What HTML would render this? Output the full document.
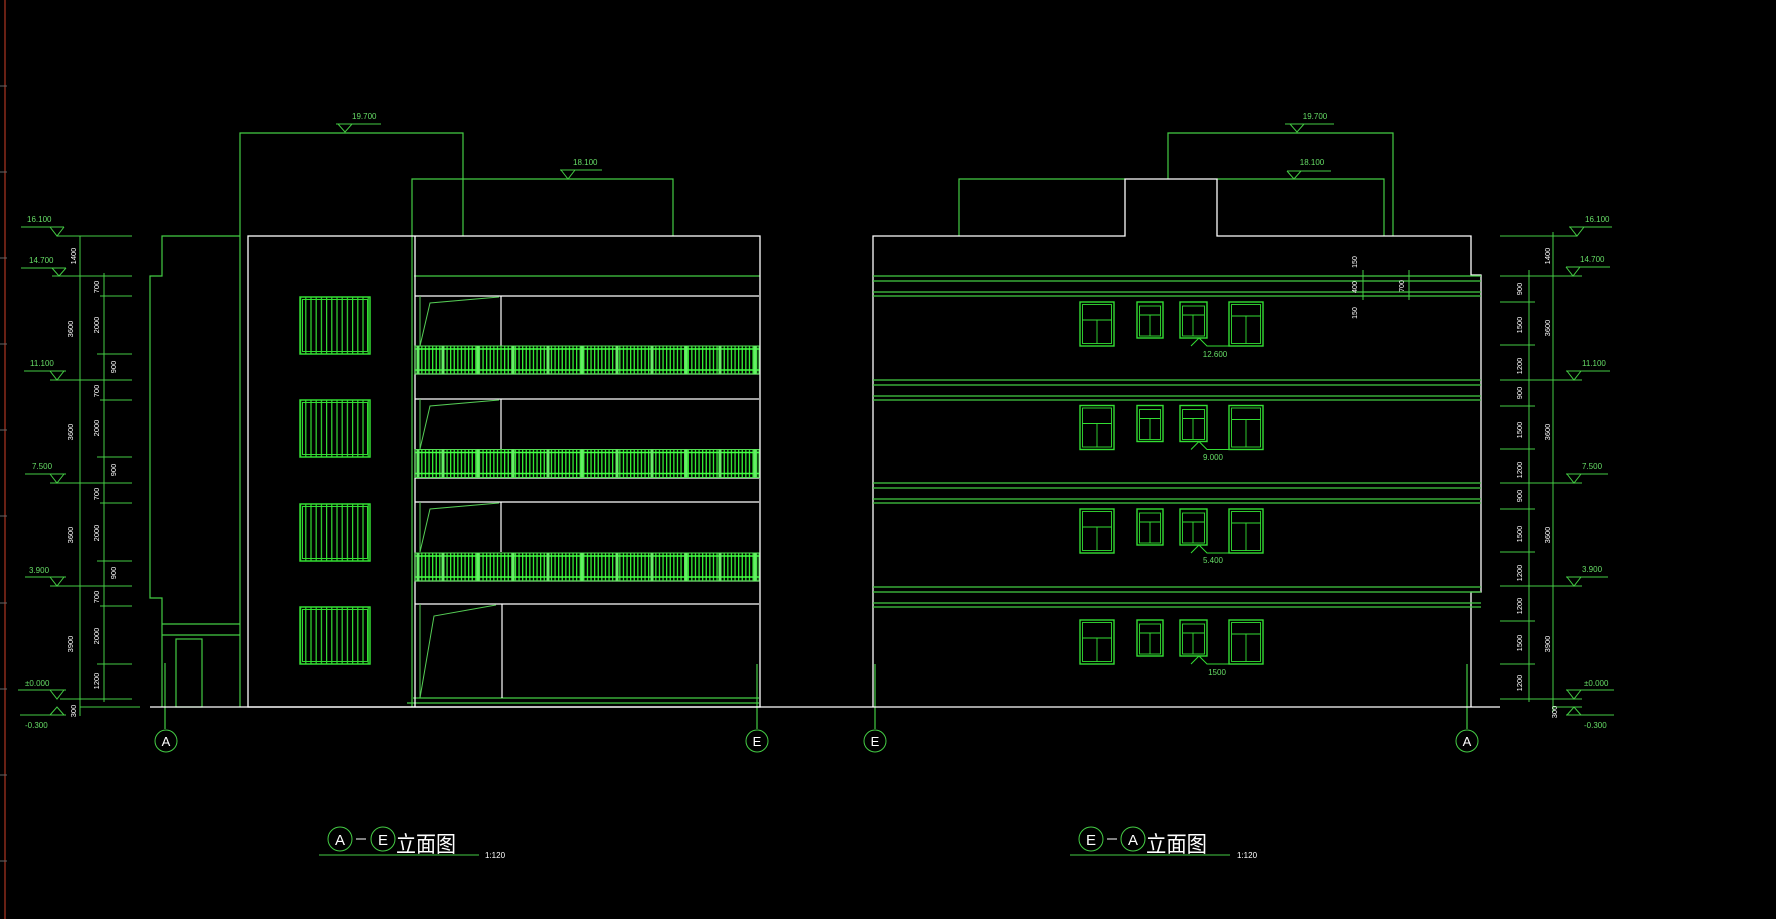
<!DOCTYPE html>
<html><head><meta charset="utf-8"><style>
html,body{margin:0;padding:0;background:#000;}
svg{display:block}
text{font-family:"Liberation Sans","Noto Sans CJK SC",sans-serif;}
</style></head><body>
<svg width="1776" height="919" viewBox="0 0 1776 919" xmlns="http://www.w3.org/2000/svg">
<defs>
<pattern id="bars" x="0" y="0" width="3.6" height="40" patternUnits="userSpaceOnUse">
<rect x="0" y="0" width="1.3" height="40" fill="#33ee33"/>
</pattern>
<pattern id="louv" x="300" y="0" width="5.2" height="60" patternUnits="userSpaceOnUse">
<rect x="0" y="0" width="1.2" height="60" fill="#33dd33"/>
</pattern>
<g id="rail">
<rect x="415" y="0" width="344" height="28" fill="url(#bars)"/>
<rect x="415" y="0" width="344" height="28" fill="none" stroke="#55dd55" stroke-width="1"/>
<line x1="415" y1="3" x2="759" y2="3" stroke="#44ff44" stroke-width="1.5"/>
<line x1="415" y1="24" x2="759" y2="24" stroke="#44ff44" stroke-width="1.5"/>
<g stroke="#66ee66" stroke-width="3">
<line x1="418" y1="0" x2="418" y2="28"/><line x1="443" y1="0" x2="443" y2="28"/><line x1="478" y1="0" x2="478" y2="28"/><line x1="513" y1="0" x2="513" y2="28"/><line x1="548" y1="0" x2="548" y2="28"/><line x1="582" y1="0" x2="582" y2="28"/><line x1="617" y1="0" x2="617" y2="28"/><line x1="652" y1="0" x2="652" y2="28"/><line x1="686" y1="0" x2="686" y2="28"/><line x1="720" y1="0" x2="720" y2="28"/><line x1="755" y1="0" x2="755" y2="28"/>
</g>
</g>
<g id="louver">
<rect x="300" y="0" width="70" height="57" fill="url(#louv)"/>
<rect x="300" y="0" width="70" height="57" fill="none" stroke="#33dd33" stroke-width="1.5"/>
<rect x="302.5" y="2.5" width="65" height="52" fill="none" stroke="#33dd33" stroke-width="1"/>
</g>
<g id="stair" fill="none">
<line x1="420" y1="0" x2="420" y2="50" stroke="#55cc55"/>
<polyline points="420,50 430,7 499,1" stroke="#55cc55"/>
<line x1="501" y1="0" x2="501" y2="50" stroke="#fff" stroke-width="1.2"/>
</g>
<g id="wins" fill="none" stroke="#33dd33" stroke-width="1.4">
<rect x="1080" y="0" width="34" height="44"/><rect x="1082.5" y="2.5" width="29" height="39" stroke-width="0.9"/><line x1="1082" y1="18" x2="1112" y2="18" stroke-width="0.9"/><line x1="1097" y1="18" x2="1097" y2="42" stroke-width="0.9"/>
<rect x="1137" y="0" width="26" height="36"/><rect x="1139.5" y="4" width="21" height="30" stroke-width="0.9"/><line x1="1140" y1="13" x2="1160" y2="13" stroke-width="0.9"/><line x1="1150" y1="13" x2="1150" y2="34" stroke-width="0.9"/>
<rect x="1180" y="0" width="27" height="36"/><rect x="1182.5" y="4" width="22" height="30" stroke-width="0.9"/><line x1="1183" y1="13" x2="1204" y2="13" stroke-width="0.9"/><line x1="1193" y1="13" x2="1193" y2="34" stroke-width="0.9"/>
<rect x="1229" y="0" width="34" height="44"/><rect x="1231.5" y="2.5" width="29" height="39" stroke-width="0.9"/><line x1="1232" y1="14" x2="1261" y2="14" stroke-width="0.9"/><line x1="1246" y1="14" x2="1246" y2="42" stroke-width="0.9"/>
<polyline points="1191,44 1199,36 1207,44 1229,44" stroke-width="1"/>
</g>
<g id="bands" stroke="#44cc44" stroke-width="1.2">
<line x1="873" y1="0" x2="1481" y2="0"/><line x1="873" y1="5" x2="1481" y2="5"/><line x1="873" y1="16" x2="1481" y2="16"/><line x1="873" y1="20" x2="1481" y2="20"/>
</g>
</defs>

<!-- left edge -->
<line x1="5" y1="0" x2="5" y2="919" stroke="#8a2a1a" stroke-width="1.5"/>
<g stroke="#666" stroke-width="1"><line x1="0" y1="86" x2="7" y2="86"/><line x1="0" y1="172" x2="7" y2="172"/><line x1="0" y1="258" x2="7" y2="258"/><line x1="0" y1="344" x2="7" y2="344"/><line x1="0" y1="430" x2="7" y2="430"/><line x1="0" y1="516" x2="7" y2="516"/><line x1="0" y1="603" x2="7" y2="603"/><line x1="0" y1="689" x2="7" y2="689"/><line x1="0" y1="775" x2="7" y2="775"/><line x1="0" y1="861" x2="7" y2="861"/></g>

<!-- ===== LEFT ELEVATION ===== -->
<g fill="none" stroke="#44cc44" stroke-width="1.2">
<polyline points="240,707 240,133 463,133 463,236"/>
<polyline points="412,707 412,179 673,179 673,236"/>
<polyline points="240,236 162,236 162,276 150,276 150,598 162,598 162,707"/>
<line x1="162" y1="624" x2="240" y2="624"/><line x1="162" y1="635" x2="240" y2="635"/>
<rect x="176" y="639" width="26" height="68"/>
<line x1="165" y1="663" x2="165" y2="729"/>
<line x1="414" y1="276" x2="760" y2="276"/>
<line x1="413" y1="698" x2="759" y2="698"/><line x1="407" y1="703" x2="759" y2="703"/>
<line x1="757" y1="664" x2="757" y2="729"/>
</g>
<g fill="none" stroke="#fff" stroke-width="1.3">
<rect x="248" y="236" width="512" height="471"/>
<line x1="415" y1="236" x2="415" y2="707"/>
<line x1="415" y1="296" x2="759" y2="296"/>
<line x1="415" y1="374" x2="759" y2="374"/><line x1="415" y1="399" x2="759" y2="399"/>
<line x1="415" y1="478" x2="759" y2="478"/><line x1="415" y1="502" x2="759" y2="502"/>
<line x1="415" y1="581" x2="759" y2="581"/><line x1="415" y1="604" x2="759" y2="604"/>
<line x1="150" y1="707" x2="873" y2="707"/>
</g>
<use href="#stair" y="296"/><use href="#stair" y="399"/><use href="#stair" y="502"/>
<g fill="none"><line x1="420" y1="604" x2="420" y2="698" stroke="#55cc55"/><polyline points="420,698 434,616 496,605" stroke="#55cc55"/><line x1="502" y1="604" x2="502" y2="698" stroke="#fff" stroke-width="1.2"/></g>
<use href="#rail" y="346"/><use href="#rail" y="449.5"/><use href="#rail" y="553"/>
<use href="#louver" y="297"/><use href="#louver" y="400"/><use href="#louver" y="504"/><use href="#louver" y="607"/>

<!-- left dims -->
<g stroke="#44cc44" stroke-width="1" fill="none">
<line x1="80" y1="236" x2="80" y2="716"/><line x1="104" y1="273" x2="104" y2="702"/>
<line x1="80" y1="236" x2="132" y2="236"/><line x1="52" y1="276" x2="132" y2="276"/><line x1="100" y1="296" x2="132" y2="296"/><line x1="97" y1="354" x2="132" y2="354"/>
<line x1="80" y1="380" x2="132" y2="380"/><line x1="100" y1="400" x2="132" y2="400"/><line x1="97" y1="457" x2="132" y2="457"/>
<line x1="80" y1="483" x2="132" y2="483"/><line x1="100" y1="503" x2="132" y2="503"/><line x1="97" y1="561" x2="132" y2="561"/>
<line x1="80" y1="586" x2="132" y2="586"/><line x1="100" y1="606" x2="132" y2="606"/><line x1="97" y1="664" x2="132" y2="664"/>
<line x1="60" y1="699" x2="132" y2="699"/><line x1="80" y1="707" x2="140" y2="707"/>
<line x1="21" y1="227" x2="64" y2="227"/><polyline points="50,227 57,236 64,227"/><line x1="57" y1="236" x2="80" y2="236"/>
<line x1="21" y1="268" x2="66" y2="268"/><polyline points="52,268 59,276 66,268"/>
<line x1="24" y1="371" x2="66" y2="371"/><polyline points="50,371 57,380 64,371"/><line x1="50" y1="380" x2="80" y2="380"/>
<line x1="25" y1="474" x2="66" y2="474"/><polyline points="50,474 57,483 64,474"/><line x1="50" y1="483" x2="80" y2="483"/>
<line x1="25" y1="577" x2="66" y2="577"/><polyline points="50,577 57,586 64,577"/><line x1="50" y1="586" x2="80" y2="586"/>
<line x1="18" y1="690" x2="66" y2="690"/><polyline points="50,690 57,699 64,690"/>
<polyline points="50,715 57,707 64,715 50,715"/><line x1="20" y1="715" x2="66" y2="715"/>
</g>
<g fill="#66dd66" font-size="8">
<text x="27" y="222">16.100</text><text x="29" y="263">14.700</text><text x="30" y="366">11.100</text><text x="32" y="469">7.500</text><text x="29" y="573">3.900</text><text x="25" y="686">±0.000</text><text x="25" y="728">-0.300</text>
</g>
<g fill="#fff" font-size="7.5" text-anchor="middle">
<text transform="translate(76,256) rotate(-90)">1400</text>
<text transform="translate(73,329) rotate(-90)">3600</text><text transform="translate(73,432) rotate(-90)">3600</text><text transform="translate(73,535) rotate(-90)">3600</text><text transform="translate(73,644) rotate(-90)">3900</text>
<text transform="translate(99,287) rotate(-90)">700</text><text transform="translate(99,325) rotate(-90)">2000</text><text transform="translate(116,367) rotate(-90)">900</text>
<text transform="translate(99,391) rotate(-90)">700</text><text transform="translate(99,428) rotate(-90)">2000</text><text transform="translate(116,470) rotate(-90)">900</text>
<text transform="translate(99,494) rotate(-90)">700</text><text transform="translate(99,533) rotate(-90)">2000</text><text transform="translate(116,573) rotate(-90)">900</text>
<text transform="translate(99,597) rotate(-90)">700</text><text transform="translate(99,636) rotate(-90)">2000</text><text transform="translate(99,681) rotate(-90)">1200</text>
<text transform="translate(76,711) rotate(-90)">300</text>
</g>
<g fill="#66dd66" font-size="8">
<text x="352" y="119">19.700</text><text x="573" y="165">18.100</text>
</g>
<g fill="none" stroke="#44cc44" stroke-width="1">
<line x1="336" y1="124" x2="381" y2="124"/><polyline points="338,124 345,132 352,124"/>
<line x1="560" y1="170" x2="602" y2="170"/><polyline points="561,170 568,179 575,170"/>
</g>

<!-- ===== RIGHT ELEVATION ===== -->
<g fill="none" stroke="#44cc44" stroke-width="1.2">
<polyline points="959,236 959,179 1125,179"/>
<polyline points="1217,179 1384,179 1384,236"/>
<polyline points="1168,179 1168,133 1393,133 1393,236"/>
<line x1="875" y1="664" x2="875" y2="729"/>
<line x1="1467" y1="664" x2="1467" y2="729"/>
</g>
<g fill="none" stroke="#fff" stroke-width="1.3">
<polyline points="1471,707 1471,592 1481,592 1481,275 1471,275 1471,236 1217,236 1217,179 1125,179 1125,236 873,236 873,707"/>
<line x1="873" y1="707" x2="1500" y2="707"/>
</g>
<use href="#bands" y="276"/><use href="#bands" y="380"/><use href="#bands" y="483"/><use href="#bands" y="587"/>
<use href="#wins" y="302"/><use href="#wins" y="405.5"/><use href="#wins" y="509"/><use href="#wins" y="620"/>
<g fill="#66dd66" font-size="8" text-anchor="middle">
<text x="1215" y="357">12.600</text><text x="1213" y="460">9.000</text><text x="1213" y="563">5.400</text><text x="1217" y="675">1500</text>
<text x="1315" y="119">19.700</text><text x="1312" y="165">18.100</text>
</g>
<g fill="none" stroke="#44cc44" stroke-width="1">
<line x1="1285" y1="124" x2="1334" y2="124"/><polyline points="1290,124 1297,132 1304,124"/>
<line x1="1287" y1="171" x2="1331" y2="171"/><polyline points="1287,171 1294,179 1301,171"/>
<line x1="1363" y1="270" x2="1363" y2="300"/><line x1="1409" y1="270" x2="1409" y2="300"/>
</g>
<g fill="#fff" font-size="7" text-anchor="middle">
<text transform="translate(1357,262) rotate(-90)">150</text><text transform="translate(1357,287) rotate(-90)">400</text><text transform="translate(1357,313) rotate(-90)">150</text><text transform="translate(1404,286) rotate(-90)">700</text>
</g>

<!-- right dims -->
<g stroke="#44cc44" stroke-width="1" fill="none">
<line x1="1553" y1="232" x2="1553" y2="712"/><line x1="1529" y1="270" x2="1529" y2="702"/>
<line x1="1500" y1="236" x2="1553" y2="236"/><line x1="1500" y1="276" x2="1582" y2="276"/>
<line x1="1500" y1="302" x2="1535" y2="302"/><line x1="1500" y1="345" x2="1535" y2="345"/>
<line x1="1500" y1="380" x2="1582" y2="380"/><line x1="1500" y1="406" x2="1535" y2="406"/><line x1="1500" y1="449" x2="1535" y2="449"/>
<line x1="1500" y1="483" x2="1582" y2="483"/><line x1="1500" y1="509" x2="1535" y2="509"/><line x1="1500" y1="552" x2="1535" y2="552"/>
<line x1="1500" y1="586" x2="1582" y2="586"/><line x1="1500" y1="621" x2="1535" y2="621"/><line x1="1500" y1="664" x2="1535" y2="664"/>
<line x1="1500" y1="699" x2="1582" y2="699"/><line x1="1553" y1="707" x2="1582" y2="707"/>
<line x1="1569" y1="227" x2="1612" y2="227"/><polyline points="1570,227 1577,236 1584,227"/><line x1="1553" y1="236" x2="1577" y2="236"/>
<line x1="1566" y1="267" x2="1610" y2="267"/><polyline points="1566,267 1573,276 1580,267"/>
<line x1="1566" y1="371" x2="1610" y2="371"/><polyline points="1567,371 1574,380 1581,371"/>
<line x1="1566" y1="474" x2="1608" y2="474"/><polyline points="1567,474 1574,483 1581,474"/>
<line x1="1566" y1="577" x2="1608" y2="577"/><polyline points="1567,577 1574,586 1581,577"/>
<line x1="1566" y1="690" x2="1614" y2="690"/><polyline points="1567,690 1574,699 1581,690"/>
<polyline points="1567,715 1574,707 1581,715 1567,715"/><line x1="1566" y1="715" x2="1614" y2="715"/>
</g>
<g fill="#66dd66" font-size="8">
<text x="1585" y="222">16.100</text><text x="1580" y="262">14.700</text><text x="1582" y="366">11.100</text><text x="1582" y="469">7.500</text><text x="1582" y="572">3.900</text><text x="1584" y="686">±0.000</text><text x="1584" y="728">-0.300</text>
</g>
<g fill="#fff" font-size="7.5" text-anchor="middle">
<text transform="translate(1550,256) rotate(-90)">1400</text>
<text transform="translate(1550,328) rotate(-90)">3600</text><text transform="translate(1550,432) rotate(-90)">3600</text><text transform="translate(1550,535) rotate(-90)">3600</text><text transform="translate(1550,644) rotate(-90)">3900</text>
<text transform="translate(1522,289) rotate(-90)">900</text><text transform="translate(1522,325) rotate(-90)">1500</text><text transform="translate(1522,366) rotate(-90)">1200</text>
<text transform="translate(1522,393) rotate(-90)">900</text><text transform="translate(1522,430) rotate(-90)">1500</text><text transform="translate(1522,470) rotate(-90)">1200</text>
<text transform="translate(1522,496) rotate(-90)">900</text><text transform="translate(1522,534) rotate(-90)">1500</text><text transform="translate(1522,573) rotate(-90)">1200</text>
<text transform="translate(1522,606) rotate(-90)">1200</text><text transform="translate(1522,643) rotate(-90)">1500</text><text transform="translate(1522,683) rotate(-90)">1200</text>
<text transform="translate(1557,712) rotate(-90)">300</text>
</g>

<!-- axis bubbles -->
<g fill="none" stroke="#44cc44" stroke-width="1">
<circle cx="166" cy="741" r="11"/><circle cx="757" cy="741" r="11"/><circle cx="875" cy="741" r="11"/><circle cx="1467" cy="741" r="11"/>
</g>
<g fill="#fff" font-size="13" text-anchor="middle">
<text x="166" y="746">A</text><text x="757" y="746">E</text><text x="875" y="746">E</text><text x="1467" y="746">A</text>
</g>

<!-- titles -->
<g fill="none" stroke="#44cc44" stroke-width="1">
<circle cx="340" cy="839" r="12"/><circle cx="383" cy="839" r="12"/><line x1="356" y1="839" x2="366" y2="839" stroke="#fff"/>
<line x1="319" y1="855" x2="479" y2="855"/>
<circle cx="1091" cy="839" r="12"/><circle cx="1133" cy="839" r="12"/><line x1="1107" y1="839" x2="1117" y2="839" stroke="#fff"/>
<line x1="1070" y1="855" x2="1230" y2="855"/>
</g>
<g fill="#fff" text-anchor="middle">
<text x="340" y="845" font-size="15">A</text><text x="383" y="845" font-size="15">E</text>
<text x="1091" y="845" font-size="15">E</text><text x="1133" y="845" font-size="15">A</text>
</g>
<text x="396" y="852" fill="#fff" font-size="22" font-family="'Liberation Sans','Noto Sans CJK SC',sans-serif" textLength="60" lengthAdjust="spacingAndGlyphs">立面图</text>
<text x="1146" y="852" fill="#fff" font-size="22" font-family="'Liberation Sans','Noto Sans CJK SC',sans-serif" textLength="61" lengthAdjust="spacingAndGlyphs">立面图</text>
<text x="485" y="858" fill="#fff" font-size="8">1:120</text>
<text x="1237" y="858" fill="#fff" font-size="8">1:120</text>
</svg>
</body></html>
